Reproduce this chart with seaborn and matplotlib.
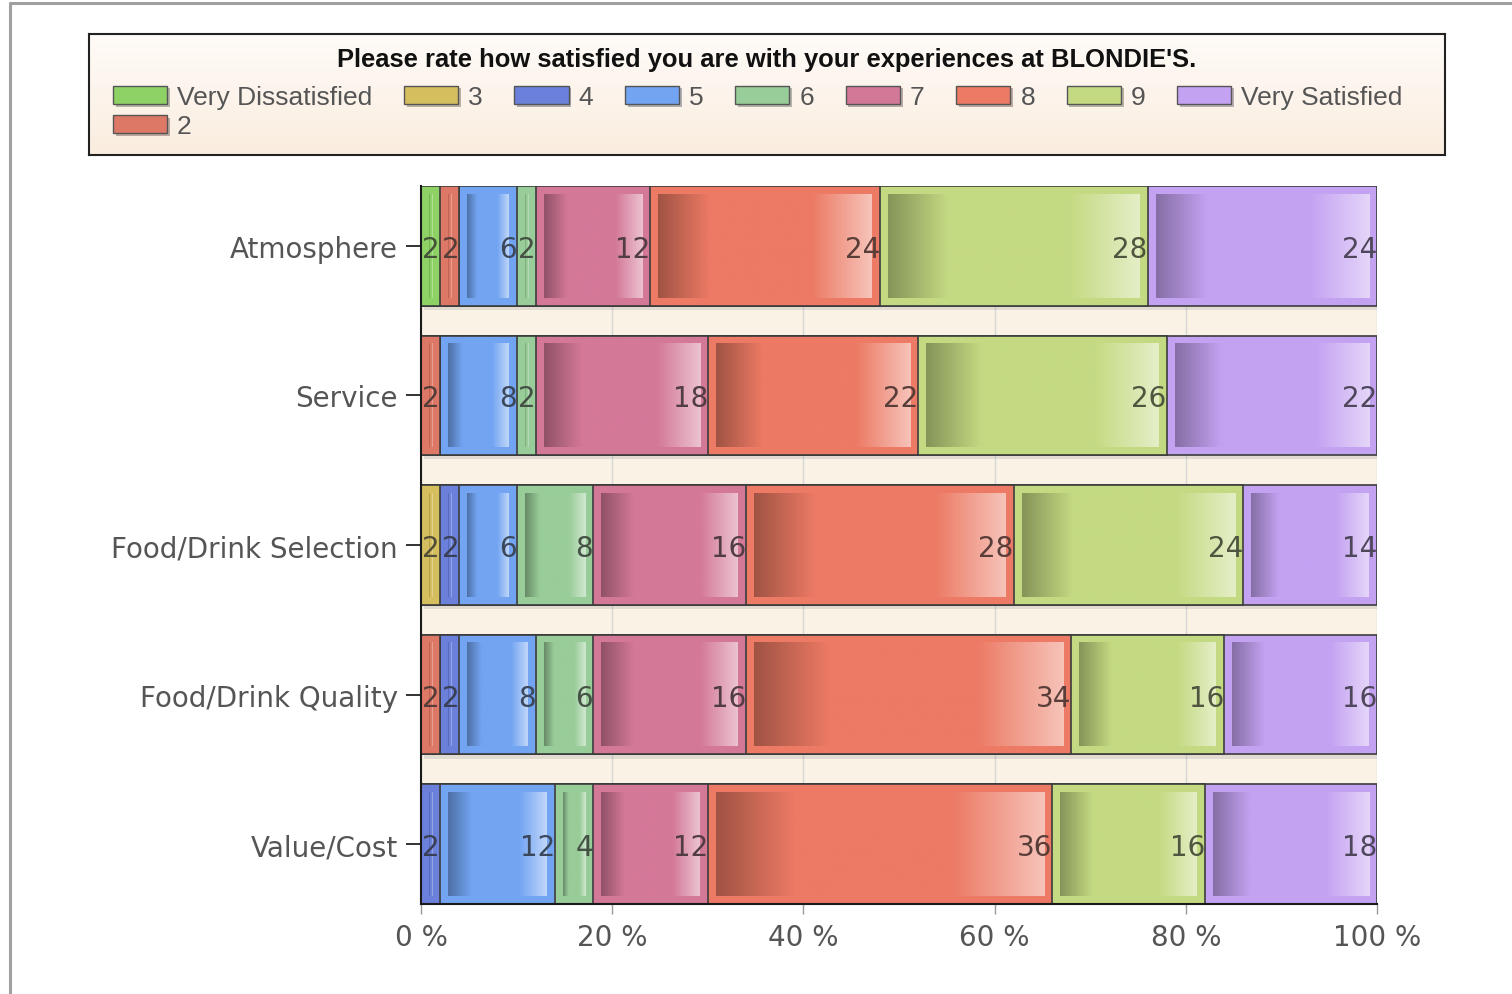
import numpy as np
import pandas as pd
import matplotlib
matplotlib.use("Agg")
import matplotlib.pyplot as plt
import seaborn as sns
from matplotlib.patches import Patch
from matplotlib.lines import Line2D
from matplotlib import patheffects as pe
from matplotlib.colors import to_rgb

# ---------------- data ----------------
categories = ["Atmosphere", "Service", "Food/Drink Selection", "Food/Drink Quality", "Value/Cost"]
series_names = ["Very Dissatisfied", "2", "3", "4", "5", "6", "7", "8", "9", "Very Satisfied"]
very_dissatisfied = [2, 0, 0, 0, 0]
rating_2 = [2, 2, 0, 2, 0]
rating_3 = [0, 0, 2, 0, 0]
rating_4 = [0, 0, 2, 2, 2]
rating_5 = [6, 8, 6, 8, 12]
rating_6 = [2, 2, 8, 6, 4]
rating_7 = [12, 18, 16, 16, 12]
rating_8 = [24, 22, 28, 34, 36]
rating_9 = [28, 26, 24, 16, 16]
very_satisfied = [24, 22, 14, 16, 18]
x_ticks = [0, 20, 40, 60, 80, 100]
x_tick_labels = ["0 %", "20 %", "40 %", "60 %", "80 %", "100 %"]
title_text = "Please rate how satisfied you are with your experiences at BLONDIE'S."

series_values = [very_dissatisfied, rating_2, rating_3, rating_4, rating_5,
                 rating_6, rating_7, rating_8, rating_9, very_satisfied]
series_colors = ["#8ED266", "#DE7866", "#D4BE5E", "#6A80DA", "#72A4F2",
                 "#98CC98", "#D47898", "#EC7A64", "#C4DA82", "#C4A2F2"]

# ---------------- table ----------------
rows = []
for name, vals in zip(series_names, series_values):
    for cat, v in zip(categories, vals):
        rows.append({"series": name, "category": cat, "value": v})
df = pd.DataFrame(rows)
df["series"] = pd.Categorical(df["series"], categories=series_names, ordered=True)
df["category"] = pd.Categorical(df["category"], categories=categories, ordered=True)
df = df.sort_values(["category", "series"])
df["cum"] = df.groupby("category", observed=True)["value"].cumsum()
df["left"] = df["cum"] - df["value"]

# ---------------- style ----------------
sns.set_theme(style="white")
plt.rcParams["font.family"] = ["DejaVu Sans"]

W, H = 1512, 995
fig = plt.figure(figsize=(W / 100, H / 100), dpi=100)
fig.patch.set_facecolor("white")

ax_l, ax_r, ax_t, ax_b = 421, 1377, 187, 905
ax = fig.add_axes([ax_l / W, 1 - ax_b / H, (ax_r - ax_l) / W, (ax_b - ax_t) / H])
ax.set_facecolor("#FBF2E6")

edge = "#3C3C3C"


def darker(c, f):
    r, g, b = to_rgb(c)
    return (r * f, g * f, b * f)


def lighter(c, f):
    r, g, b = to_rgb(c)
    return (r + (1 - r) * f, g + (1 - g) * f, b + (1 - b) * f)


def gradient(c, n=256):
    base = np.array(to_rgb(c))
    dk = np.array(darker(c, 0.68))
    lt = np.array(lighter(c, 0.55))
    stops = [0.0, 0.24, 0.72, 1.0]
    cols = np.array([dk, base, base, lt])
    t = np.linspace(0, 1, n)
    img = np.stack([np.interp(t, stops, cols[:, k]) for k in range(3)], axis=-1)
    return img[np.newaxis, :, :]


# draw cumulative bars, last series first so earlier ones overlay
for idx in range(len(series_names) - 1, -1, -1):
    name = series_names[idx]
    sub = df[df["series"] == name]
    n_before = len(ax.patches)
    sns.barplot(data=sub, x="cum", y="category", order=categories, orient="h",
                color=series_colors[idx], saturation=1, width=0.8, errorbar=None,
                edgecolor=edge, linewidth=1.2, ax=ax)
    if idx == len(series_names) - 1:
        for p in ax.patches[n_before:]:
            p.set_path_effects([pe.SimplePatchShadow(offset=(2, -3), shadow_rgbFace="#8a8a8a", alpha=0.22),
                                pe.Normal()])

# inner gradient panels and value labels
px_x = 100 / (ax_r - ax_l)
px_y = 1 / 150
inset_x, inset_y = 8 * px_x, 8 * px_y
for idx, name in enumerate(series_names):
    sub = df[df["series"] == name]
    col = series_colors[idx]
    txt_col = tuple(0.55 * a + 0.45 * 0.27 for a in darker(col, 0.45))
    for _, r in sub.iterrows():
        if r["value"] <= 0:
            continue
        j = categories.index(r["category"])
        left, right = r["left"], r["cum"]
        if right - left > 2 * inset_x:
            ax.imshow(gradient(col), extent=[left + inset_x, right - inset_x,
                                             j + 0.4 - inset_y, j - 0.4 + inset_y],
                      aspect="auto", interpolation="bilinear", zorder=2)
        ax.text(right, j, f"{int(r['value'])}", ha="right", va="center_baseline",
                fontsize=20, color=txt_col, zorder=3)

ax.set_xlim(0, 100)
ax.set_ylim(4.4, -0.4)
ax.set_xticks(x_ticks)
ax.set_xticklabels(x_tick_labels)
ax.set_xlabel("")
ax.set_ylabel("")
ax.tick_params(axis="x", bottom=True, length=7.5, width=1, color="#9A9A9A",
               labelsize=20, labelcolor="#555555", pad=6)
ax.tick_params(axis="y", left=True, length=11, width=1.3, color="#222222",
               labelsize=20, labelcolor="#555555", pad=5.5)
ax.grid(axis="x", color="#D6D6D6", linewidth=1)
ax.grid(axis="y", visible=False)
ax.set_axisbelow(True)
for s in ["top", "right"]:
    ax.spines[s].set_visible(False)
for s in ["left", "bottom"]:
    ax.spines[s].set_visible(True)
    ax.spines[s].set_color("#1a1a1a")
    ax.spines[s].set_linewidth(1.5)

# ---------------- legend box ----------------
lb_l, lb_r, lb_t, lb_b = 89, 1445, 35, 156
lax = fig.add_axes([lb_l / W, 1 - lb_b / H, (lb_r - lb_l) / W, (lb_b - lb_t) / H])
top_c = np.array(to_rgb("#FFFBF8"))
bot_c = np.array(to_rgb("#FAEDDF"))
tt = np.linspace(0, 1, 64)[:, None, None]
bg = top_c * (1 - tt) + bot_c * tt
lax.imshow(bg, extent=[0, 1, 0, 1], aspect="auto", interpolation="bilinear")
lax.set_xlim(0, 1)
lax.set_ylim(0, 1)
lax.set_xticks([])
lax.set_yticks([])
for s in lax.spines.values():
    s.set_visible(True)
    s.set_color("#222222")
    s.set_linewidth(1.5)

lax.text(0.5, 1 - (60 - lb_t) / (lb_b - lb_t), title_text, transform=lax.transAxes,
         ha="center", va="center", fontsize=18.4, fontweight="bold",
         family=["Liberation Sans", "DejaVu Sans"], color="#111111")

handles = [Patch(facecolor=c, edgecolor="#555555", linewidth=1, label=n,
                 path_effects=[pe.SimplePatchShadow(offset=(2, -2), alpha=0.35), pe.Normal()])
           for n, c in zip(series_names, series_colors)]
lax.legend(handles=handles, loc="upper left", bbox_to_anchor=(113 / W, 1 - 86 / H),
           bbox_transform=fig.transFigure, ncol=9, frameon=False,
           prop={"family": ["Liberation Sans", "DejaVu Sans"], "size": 19},
           labelcolor="#555555", handlelength=2.05, handleheight=0.68,
           handletextpad=0.38, columnspacing=1.2, labelspacing=0.2,
           borderpad=0, borderaxespad=0)

# ---------------- outer frame lines ----------------
fig.add_artist(Line2D([10 / W, 10 / W], [0, 1 - 4 / H], transform=fig.transFigure,
                      color="#A0A0A0", linewidth=2.2))
fig.add_artist(Line2D([10 / W, 1], [1 - 4 / H, 1 - 4 / H], transform=fig.transFigure,
                      color="#A0A0A0", linewidth=2.2))

fig.savefig("out.png", dpi=100)
